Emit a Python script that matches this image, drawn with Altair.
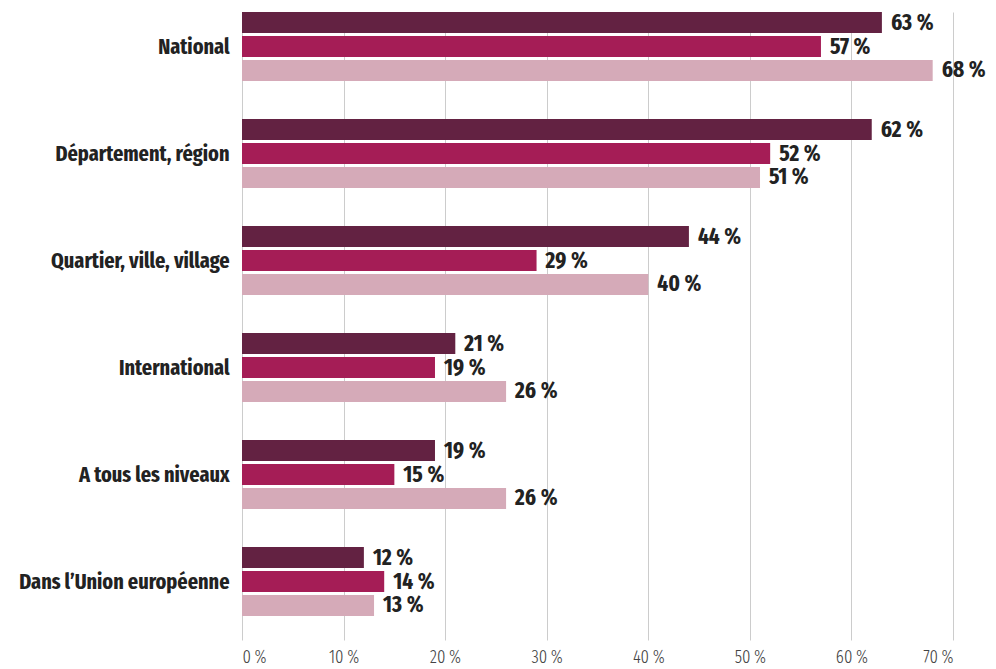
import altair as alt
import pandas as pd

categories = ["National", "Département, région", "Quartier, ville, village",
              "International", "A tous les niveaux", "Dans l’Union européenne"]
series = ["Série 1", "Série 2", "Série 3"]
serie1 = [63, 62, 44, 21, 19, 12]
serie2 = [57, 52, 29, 19, 15, 14]
serie3 = [68, 51, 40, 26, 26, 13]
colors = ["#632242", "#a51d56", "#d5aab8"]
x_ticks = [0, 10, 20, 30, 40, 50, 60, 70]

FONT = "Fira Sans Extra Condensed, Roboto Condensed, sans-serif"

rows = []
for i, c in enumerate(categories):
    for s, vals in zip(series, [serie1, serie2, serie3]):
        rows.append({"cat": c, "serie": s, "val": vals[i], "label": f"{vals[i]}\u2009%"})
df = pd.DataFrame(rows)

base = alt.Chart(df).encode(
    y=alt.Y("cat:N", sort=categories,
            scale=alt.Scale(paddingInner=0.355, paddingOuter=0.112, align=0),
            axis=alt.Axis(title=None, labelFont=FONT, labelFontSize=22,
                          labelFontWeight="bold", labelColor="#222222", labelLimit=0,
                          ticks=False, domain=False, labelPadding=13, grid=False)),
    yOffset=alt.YOffset("serie:N", sort=series, scale=alt.Scale(paddingInner=0.12)),
)

bars = base.mark_bar().encode(
    x=alt.X("val:Q", scale=alt.Scale(domain=[0, 70], nice=False),
            axis=alt.Axis(values=x_ticks, labelExpr="datum.value + '\u2009%'", title=None,
                          grid=True, gridColor="#cccccc", gridWidth=1,
                          domain=False, ticks=False, labelFont=FONT,
                          labelFontWeight=300,
                          labelFontSize=18, labelColor="#444444", labelPadding=8)),
    color=alt.Color("serie:N", scale=alt.Scale(domain=series, range=colors), legend=None),
)

text = base.mark_text(align="left", baseline="middle", dx=9, fontSize=23,
                      fontWeight="bold", color="#222222", font=FONT).encode(
    x="val:Q", text="label:N")

chart = (bars + text).properties(
    width=711, height=628,
    padding={"left": 234, "top": 4, "right": 34, "bottom": 30},
    autosize=alt.AutoSizeParams(type="none"),
).configure_view(stroke=None)

chart.save("out.html", embed_options={"renderer": "svg", "actions": False})
